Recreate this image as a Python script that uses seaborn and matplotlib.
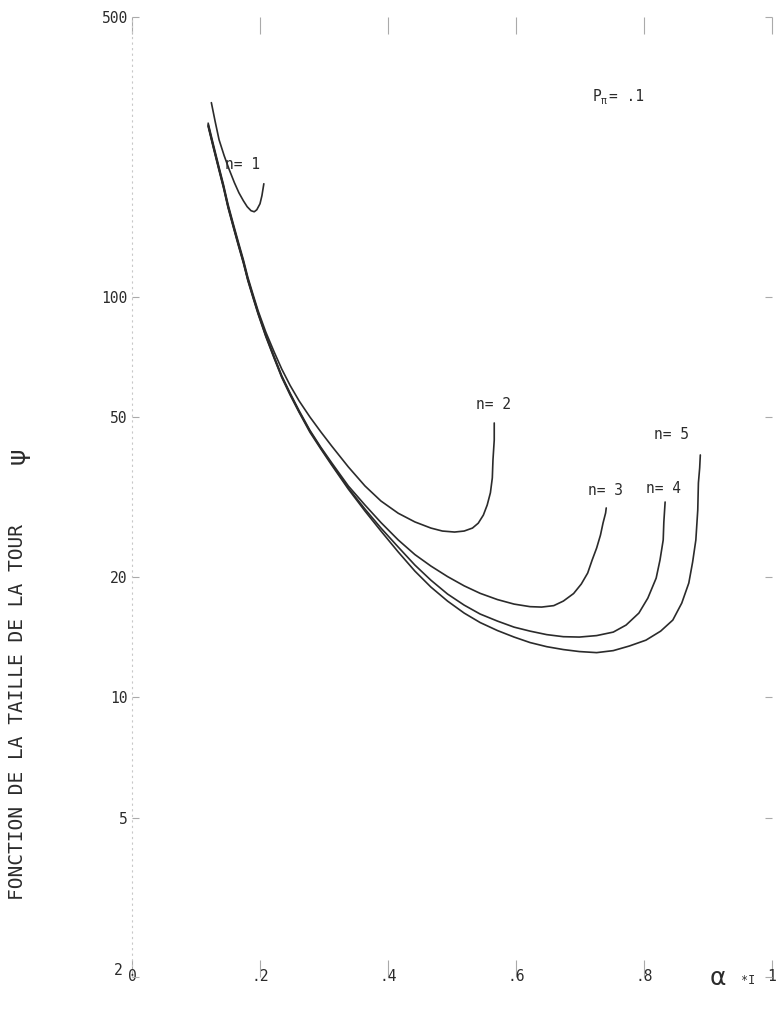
import matplotlib
matplotlib.use("Agg")
import matplotlib.pyplot as plt
import matplotlib.transforms as mtrans
import seaborn as sns
import pandas as pd

sns.set_theme(style="white")
plt.rcParams['font.family'] = ['DejaVu Sans Mono', 'DejaVu Sans']

# ---- data (x = alpha*I, y = psi) ----
n1_x = [0.124, 0.130, 0.136, 0.144, 0.152, 0.160, 0.167, 0.174, 0.180, 0.186,
        0.191, 0.195, 0.200, 0.203, 0.206]
n1_y = [305.5, 273.8, 246.9, 225.2, 207.7, 192.8, 182.0, 173.8, 167.9, 164.1,
        163.1, 165.0, 170.8, 178.9, 191.6]

trunk_x = [0.119, 0.127, 0.135, 0.143, 0.150, 0.158, 0.166, 0.174, 0.181, 0.189,
           0.197, 0.209, 0.222, 0.234, 0.247, 0.261, 0.278, 0.295]

n2_x = trunk_x[:11] + [0.209, 0.222, 0.234, 0.247, 0.261, 0.278, 0.295, 0.312, 0.338,
                       0.364, 0.389, 0.416, 0.442, 0.467, 0.485, 0.504, 0.519, 0.532,
                       0.541, 0.549, 0.555, 0.560, 0.563, 0.564, 0.566, 0.566]
n2_y = [271.5, 240.6, 213.8, 190.5, 170.3, 152.7, 137.3, 123.8, 111.9, 101.5, 92.3,
        81.7, 72.9, 66.0, 60.1, 55.0, 50.1, 46.0, 42.4, 37.6, 33.7, 30.9, 28.8, 27.4,
        26.45, 26.0, 25.85, 26.0, 26.45, 27.2, 28.5, 30.2, 32.4, 35.3, 39.1, 43.9, 48.4]

n3_x = trunk_x + [0.312, 0.338, 0.364, 0.389, 0.416, 0.442, 0.467, 0.493, 0.519, 0.544,
                  0.571, 0.597, 0.622, 0.640, 0.659, 0.674, 0.690, 0.702, 0.712, 0.719,
                  0.726, 0.732, 0.736, 0.740, 0.741]
n3_y = [269.2, 238.5, 212.0, 188.9, 168.8, 151.4, 136.1, 122.7, 110.9, 100.6, 91.5,
        80.4, 71.0, 63.5, 57.5, 52.0, 46.4, 42.1,
        38.5, 33.7, 30.2, 27.3, 24.7, 22.71, 21.26, 20.01, 18.97, 18.17, 17.53, 17.08,
        16.83, 16.79, 16.93, 17.38, 18.15, 19.17, 20.42, 22.01, 23.58, 25.41, 27.23,
        28.84, 29.69]

n4_x = trunk_x + [0.312, 0.338, 0.364, 0.389, 0.416, 0.442, 0.467, 0.493, 0.519, 0.544,
                  0.571, 0.597, 0.622, 0.648, 0.674, 0.699, 0.726, 0.752, 0.772, 0.792,
                  0.806, 0.819, 0.825, 0.830, 0.831, 0.833]
n4_y = [267.8, 237.3, 211.0, 188.0, 168.0, 150.6, 135.4, 122.1, 110.3, 100.1, 91.0,
        80.0, 70.6, 63.2, 57.2, 51.7, 46.2, 41.9,
        38.2, 33.3, 29.5, 26.45, 23.71, 21.38, 19.6, 18.1, 16.98, 16.13, 15.49, 14.96,
        14.62, 14.33, 14.16, 14.13, 14.25, 14.54, 15.14, 16.22, 17.68, 19.83, 22.01,
        24.69, 27.38, 30.72]

n5_x = trunk_x + [0.312, 0.338, 0.364, 0.389, 0.416, 0.442, 0.467, 0.493, 0.519, 0.544,
                  0.571, 0.597, 0.622, 0.648, 0.674, 0.699, 0.726, 0.752, 0.777, 0.803,
                  0.826, 0.845, 0.859, 0.870, 0.876, 0.881, 0.884, 0.885, 0.887, 0.888]
n5_y = [266.5, 236.1, 209.9, 187.0, 167.1, 149.9, 134.7, 121.5, 109.8, 99.6, 90.6,
        79.6, 70.3, 62.9, 56.9, 51.5, 45.9, 41.7,
        38.0, 33.1, 29.17, 26.0, 23.05, 20.65, 18.84, 17.38, 16.22, 15.36, 14.67, 14.13,
        13.69, 13.37, 13.15, 13.0, 12.92, 13.07, 13.42, 13.88, 14.62, 15.58, 17.18,
        19.28, 21.76, 24.69, 29.34, 34.28, 37.38, 40.27]

curve_names = ["n= 1", "n= 2", "n= 3", "n= 4", "n= 5"]
label_x = [0.146, 0.538, 0.712, 0.803, 0.815]
label_y = [214, 53.7, 32.9, 33.3, 45.2]

y_ticks = [2, 5, 10, 20, 50, 100, 500]
y_ticklabels = ["2", "5", "10", "20", "50", "100", "500"]
x_ticks = [0, 0.2, 0.4, 0.6, 0.8, 1.0]
x_ticklabels = ["0", ".2", ".4", ".6", ".8", "1"]

# ---- build long table ----
frames = []
for name, xs, ys in zip(curve_names, [n1_x, n2_x, n3_x, n4_x, n5_x],
                        [n1_y, n2_y, n3_y, n4_y, n5_y]):
    frames.append(pd.DataFrame({"x": xs, "y": ys, "n": name}))
df = pd.concat(frames, ignore_index=True)

W, H = 777, 1025
fig = plt.figure(figsize=(W / 100, H / 100), dpi=100)
ax = fig.add_axes([132 / W, (H - 977) / H, 640 / W, 960 / H])

ink = "#2b2b2b"
sns.lineplot(data=df, x="x", y="y", hue="n", units="n", estimator=None, sort=False,
             palette=[ink] * 5, linewidth=1.2, legend=False, ax=ax)

ax.set_yscale("log")
ax.set_xlim(0, 1.0)
ax.set_ylim(2, 500)
ax.set_yticks(y_ticks)
ax.set_yticklabels(y_ticklabels)
ax.minorticks_off()
ax.set_xticks(x_ticks)
ax.set_xticklabels(x_ticklabels)
ax.set_xlabel("")
ax.set_ylabel("")

for s in ["top", "right", "bottom"]:
    ax.spines[s].set_visible(False)
ax.spines["left"].set_color("#c8c8c8")
ax.spines["left"].set_linestyle((0, (1, 4)))
ax.spines["left"].set_linewidth(0.8)

ax.tick_params(axis="y", which="both", direction="in", length=5, width=0.8,
               color="#aaaaaa", labelcolor=ink, labelsize=10.5, pad=3,
               left=True, right=True)
ax.tick_params(axis="x", which="both", direction="in", length=12, width=0.8,
               color="#aaaaaa", labelcolor=ink, labelsize=10.5, pad=-6,
               bottom=True, top=True)
for lab in ax.get_xticklabels() + ax.get_yticklabels():
    lab.set_fontfamily(['DejaVu Sans Mono'])

# lift the "2" label a little, as in the original, so it clears the "0"
lab2 = ax.get_yticklabels()[0]
lab2.set_transform(lab2.get_transform() +
                   mtrans.ScaledTranslation(-4 / 72, 6 / 72, fig.dpi_scale_trans))

# curve labels
for name, lx, ly in zip(curve_names, label_x, label_y):
    ax.text(lx, ly, name, fontsize=10.5, color=ink, ha="left", va="center")

ax.text(0.72, 316, "P", fontsize=10.5, color=ink, ha="left", va="center")
ax.text(0.733, 308, "π", fontsize=7, color=ink, ha="left", va="center")
ax.text(0.745, 316, "= .1", fontsize=10.5, color=ink, ha="left", va="center")

# axis titles
fig.text(18 / W, 1 - 712 / H, "FONCTION DE LA TAILLE DE LA TOUR", rotation=90,
         fontsize=14, color=ink, ha="center", va="center")
fig.text(18 / W, 1 - 456 / H, "ψ", rotation=90, fontsize=18, color=ink,
         ha="center", va="center", family=['DejaVu Sans'])
fig.text(718 / W, 1 - 978 / H, "α", fontsize=18, color=ink, ha="center",
         va="center", family=['DejaVu Sans'])
fig.text(748 / W, 1 - 981 / H, "*I", fontsize=8.5, color=ink, ha="center",
         va="center")

fig.savefig("out.png", dpi=100)
